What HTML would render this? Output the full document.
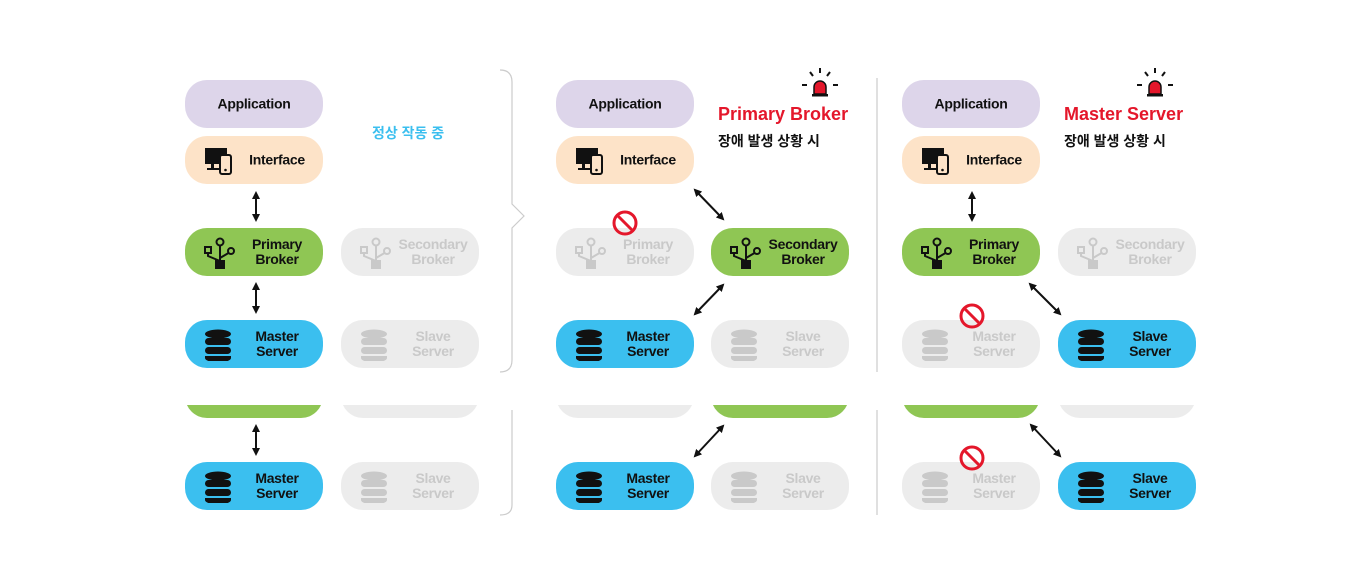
<!DOCTYPE html>
<html><head><meta charset="utf-8"><style>
body{margin:0;width:1347px;height:578px;background:#fff;position:relative;overflow:hidden;font-family:"Liberation Sans","Noto Sans CJK KR",sans-serif}
.b{position:absolute;width:138px;height:48px;border-radius:22px;font-weight:bold;font-size:14px;letter-spacing:-0.3px;line-height:15px;color:#111;box-sizing:border-box}
.b .t{position:absolute;left:50px;right:4px;top:50%;transform:translateY(-50%);text-align:center}
.b svg{position:absolute;left:18px;top:9px}
.app{background:#ddd5ea}.if{background:#fde3c8}.gr{background:#8fc654}.bl{background:#3bbfef}.gy{background:#ececec;color:#c9c9c9}
.clip{position:absolute;overflow:hidden}
.lbl{position:absolute;font-weight:bold;white-space:nowrap}
</style></head><body>
<svg width="0" height="0" style="position:absolute">
<defs>
<g id="mon"><rect x="2" y="3" width="22" height="16" fill="currentColor"/><rect x="8" y="19" width="3" height="4" fill="currentColor"/><rect x="4" y="23" width="12" height="2" fill="currentColor"/><rect x="17" y="10" width="11" height="19" rx="2" fill="#fde3c8" stroke="currentColor" stroke-width="2"/><circle cx="22.5" cy="25" r="1.3" fill="currentColor"/></g>
<g id="brk" fill="none" stroke="currentColor" stroke-width="2"><circle cx="17" cy="5" r="3.5"/><line x1="17" y1="9" x2="17" y2="24"/><rect x="2" y="10" width="6" height="6"/><path d="M5 16 v3 l12 5"/><circle cx="28" cy="14" r="3"/><path d="M25.5 16 L17 21"/><rect x="13" y="24" width="8" height="7" fill="currentColor"/></g>
<g id="db" fill="currentColor"><ellipse cx="15" cy="5" rx="13" ry="4.5"/><rect x="2" y="9" width="26" height="7" rx="3.5"/><rect x="2" y="18" width="26" height="7" rx="3.5"/><path d="M2 27 h26 v2 a13 4.5 0 0 1 -26 0z"/></g>
<marker id="ah" markerWidth="8" markerHeight="8" refX="6" refY="4" orient="auto-start-reverse" markerUnits="userSpaceOnUse"><path d="M0 0 L8 4 L0 8z" fill="#111"/></marker>
</defs></svg>

<svg style="position:absolute;left:0;top:0" width="1347" height="578">
<path d="M500 70 q12 0 12 12 v122 l12 12 l-12 12 v132 q0 12 -12 12" fill="none" stroke="#ccc" stroke-width="1.2"/>
<path d="M512 410 v95 q0 10 -12 10" fill="none" stroke="#ccc" stroke-width="1.2"/>
<line x1="877" y1="78" x2="877" y2="372" stroke="#ccc" stroke-width="1.2"/>
<line x1="877" y1="410" x2="877" y2="515" stroke="#ccc" stroke-width="1.2"/>
<g stroke="#111" stroke-width="2" marker-start="url(#ah)" marker-end="url(#ah)">
<line x1="256" y1="193" x2="256" y2="220"/><line x1="256" y1="284" x2="256" y2="312"/><line x1="256" y1="426" x2="256" y2="454"/>
<line x1="695" y1="190" x2="723" y2="219"/><line x1="723" y1="285" x2="695" y2="314"/><line x1="723" y1="426" x2="695" y2="456"/>
<line x1="972" y1="193" x2="972" y2="220"/><line x1="1030" y1="284" x2="1060" y2="314"/><line x1="1031" y1="425" x2="1060" y2="456"/>
</g>
</svg>

<div class="b app" style="left:185px;top:80px"><div class="t" style="left:0;right:0">Application</div></div>
<div class="b if" style="left:185px;top:136px"><svg width="32" height="32"><use href="#mon"/></svg><div class="t">Interface</div></div>
<div class="b gr" style="left:185px;top:228px"><svg width="32" height="32"><use href="#brk"/></svg><div class="t">Primary<br>Broker</div></div>
<div class="b gy" style="left:341px;top:228px"><svg width="32" height="32"><use href="#brk"/></svg><div class="t">Secondary<br>Broker</div></div>
<div class="b bl" style="left:185px;top:320px"><svg width="32" height="32"><use href="#db"/></svg><div class="t">Master<br>Server</div></div>
<div class="b gy" style="left:341px;top:320px"><svg width="32" height="32"><use href="#db"/></svg><div class="t">Slave<br>Server</div></div>
<div class="lbl" style="left:372px;top:123px;color:#3bbfef;font-size:14px">정상 작동 중</div>

<div class="b app" style="left:556px;top:80px"><div class="t" style="left:0;right:0">Application</div></div>
<div class="b if" style="left:556px;top:136px"><svg width="32" height="32"><use href="#mon"/></svg><div class="t">Interface</div></div>
<div class="b gy" style="left:556px;top:228px"><svg width="32" height="32"><use href="#brk"/></svg><div class="t">Primary<br>Broker</div></div>
<div class="b gr" style="left:711px;top:228px"><svg width="32" height="32"><use href="#brk"/></svg><div class="t">Secondary<br>Broker</div></div>
<div class="b bl" style="left:556px;top:320px"><svg width="32" height="32"><use href="#db"/></svg><div class="t">Master<br>Server</div></div>
<div class="b gy" style="left:711px;top:320px"><svg width="32" height="32"><use href="#db"/></svg><div class="t">Slave<br>Server</div></div>
<div class="lbl" style="left:718px;top:104px;color:#e4172b;font-size:18px">Primary Broker</div>
<div class="lbl" style="left:718px;top:131px;color:#111;font-size:14px">장애 발생 상황 시</div>

<div class="b app" style="left:902px;top:80px"><div class="t" style="left:0;right:0">Application</div></div>
<div class="b if" style="left:902px;top:136px"><svg width="32" height="32"><use href="#mon"/></svg><div class="t">Interface</div></div>
<div class="b gr" style="left:902px;top:228px"><svg width="32" height="32"><use href="#brk"/></svg><div class="t">Primary<br>Broker</div></div>
<div class="b gy" style="left:1058px;top:228px"><svg width="32" height="32"><use href="#brk"/></svg><div class="t">Secondary<br>Broker</div></div>
<div class="b gy" style="left:902px;top:320px"><svg width="32" height="32"><use href="#db"/></svg><div class="t">Master<br>Server</div></div>
<div class="b bl" style="left:1058px;top:320px"><svg width="32" height="32"><use href="#db"/></svg><div class="t">Slave<br>Server</div></div>
<div class="lbl" style="left:1064px;top:104px;color:#e4172b;font-size:18px">Master Server</div>
<div class="lbl" style="left:1064px;top:131px;color:#111;font-size:14px">장애 발생 상황 시</div>

<div class="clip" style="left:0;top:405px;width:1347px;height:14px">
<div class="b gr" style="left:185px;top:-35px"></div><div class="b gy" style="left:341px;top:-35px"></div>
<div class="b gy" style="left:556px;top:-35px"></div><div class="b gr" style="left:711px;top:-35px"></div>
<div class="b gr" style="left:902px;top:-35px"></div><div class="b gy" style="left:1058px;top:-35px"></div>
</div>
<div class="b bl" style="left:185px;top:462px"><svg width="32" height="32"><use href="#db"/></svg><div class="t">Master<br>Server</div></div>
<div class="b gy" style="left:341px;top:462px"><svg width="32" height="32"><use href="#db"/></svg><div class="t">Slave<br>Server</div></div>
<div class="b bl" style="left:556px;top:462px"><svg width="32" height="32"><use href="#db"/></svg><div class="t">Master<br>Server</div></div>
<div class="b gy" style="left:711px;top:462px"><svg width="32" height="32"><use href="#db"/></svg><div class="t">Slave<br>Server</div></div>
<div class="b gy" style="left:902px;top:462px"><svg width="32" height="32"><use href="#db"/></svg><div class="t">Master<br>Server</div></div>
<div class="b bl" style="left:1058px;top:462px"><svg width="32" height="32"><use href="#db"/></svg><div class="t">Slave<br>Server</div></div>

<svg style="position:absolute;left:0;top:0" width="1347" height="578">
<g fill="none" stroke="#e4172b" stroke-width="3">
<circle cx="625" cy="223" r="11"/><line x1="617" y1="215" x2="633" y2="231"/>
<circle cx="972" cy="316" r="11"/><line x1="964" y1="308" x2="980" y2="324"/>
<circle cx="972" cy="458" r="11"/><line x1="964" y1="450" x2="980" y2="466"/>
</g>
<g transform="translate(820,84)"><path d="M-6 10 v-7 a6 6 0 0 1 12 0 v7z" fill="#e4172b" stroke="#111" stroke-width="1.5"/><rect x="-8" y="10" width="16" height="2.5" fill="#111"/>
<g stroke="#111" stroke-width="2"><line x1="0" y1="-16" x2="0" y2="-11"/><line x1="-10" y1="-12" x2="-7" y2="-8"/><line x1="10" y1="-12" x2="7" y2="-8"/><line x1="-18" y1="1" x2="-13" y2="1"/><line x1="18" y1="1" x2="13" y2="1"/></g></g>
<g transform="translate(1155,84)"><path d="M-6 10 v-7 a6 6 0 0 1 12 0 v7z" fill="#e4172b" stroke="#111" stroke-width="1.5"/><rect x="-8" y="10" width="16" height="2.5" fill="#111"/>
<g stroke="#111" stroke-width="2"><line x1="0" y1="-16" x2="0" y2="-11"/><line x1="-10" y1="-12" x2="-7" y2="-8"/><line x1="10" y1="-12" x2="7" y2="-8"/><line x1="-18" y1="1" x2="-13" y2="1"/><line x1="18" y1="1" x2="13" y2="1"/></g></g>
</svg>
</body></html>
